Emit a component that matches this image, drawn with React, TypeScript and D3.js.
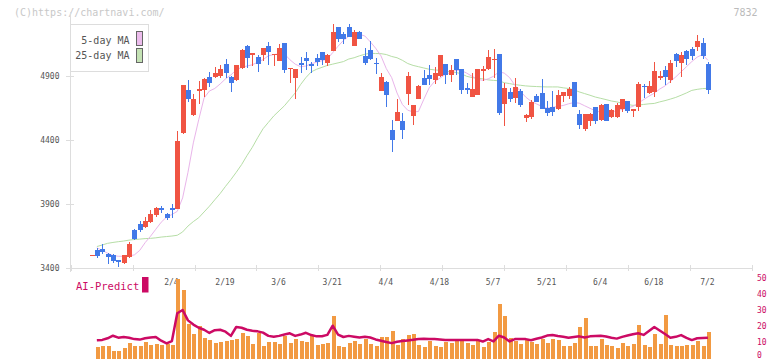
import * as d3 from 'd3';

const W = 772;
const H = 361;

// daily candles, 2025/1/14 .. 2025/7/2
const opens = [3500,3541,3548,3512,3502,3465,3442,3488,3697,3749,
  3723,3764,3817,3871,3821,3871,3862,4457,4791,4595,
  4786,4790,4897,4893,4901,4995,4897,4869,4963,5135,
  5066,5053,5063,5138,5066,5022,5157,4954,4889,5006,
  5044,4999,5044,5088,5007,5100,5282,5227,5282,5139,
  5246,5058,5105,5006,4785,4858,4480,4551,4551,4762,
  4590,4723,4889,4910,4870,4901,4995,4909,5034,4954,
  4805,4740,4754,4943,4954,5028,5075,4680,4777,4733,
  4785,4576,4584,4745,4768,4654,4662,4648,4748,4748,
  4855,4603,4488,4551,4660,4556,4683,4580,4580,4643,
  4707,4626,4660,4823,4771,4779,4886,4949,4870,5074,
  5001,5097,5113,5127,5160,4995];
const highs = [3503,3558,3593,3520,3515,3468,3501,3608,3705,3769,
  3801,3858,3879,3886,3834,3901,4473,4835,4869,4760,
  4862,4890,4936,4975,4987,5034,4900,4990,5116,5143,
  5079,5066,5125,5167,5074,5155,5160,4965,4954,5047,
  5088,5015,5077,5090,5072,5308,5287,5245,5308,5262,
  5254,5118,5178,5045,4922,4860,4558,4722,4617,4936,
  4678,4832,4948,4992,4975,5068,4997,4987,5036,4956,
  4845,4922,4956,4980,5105,5115,5077,4845,4807,4888,
  4798,4608,4718,4765,4878,4707,4784,4792,4781,4818,
  4857,4634,4607,4610,4662,4683,4685,4648,4690,4724,
  4709,4648,4855,4839,4863,5011,4941,4980,5027,5082,
  5090,5105,5129,5222,5199,5011];
const lows = [3499,3480,3515,3434,3441,3410,3434,3484,3620,3684,
  3711,3754,3797,3832,3775,3793,3862,4450,4699,4590,
  4682,4740,4819,4885,4885,4885,4779,4865,4960,4967,
  4983,4931,5020,4988,4981,5020,4924,4848,4723,4928,
  4948,4924,4983,4988,4983,5098,5170,5152,5204,5137,
  5192,4988,5030,4916,4783,4663,4311,4549,4412,4676,
  4519,4720,4830,4832,4840,4891,4840,4856,4909,4760,
  4760,4738,4752,4865,4952,4885,4597,4511,4701,4693,
  4663,4542,4563,4701,4644,4589,4589,4636,4701,4719,
  4660,4486,4472,4512,4527,4548,4549,4575,4578,4619,
  4614,4584,4629,4733,4760,4740,4870,4831,4849,4975,
  4897,4988,5027,5095,5035,4760];
const closes = [3502,3496,3529,3489,3457,3450,3501,3587,3626,3697,
  3769,3827,3871,3858,3795,3858,4392,4831,4720,4720,
  4799,4880,4850,4924,4956,4928,4850,4987,5104,5044,
  5079,4995,5119,5091,5074,5119,4950,4965,4954,4986,
  5020,4983,5013,5026,5070,5245,5191,5193,5209,5246,
  5194,5006,5032,4993,4897,4754,4402,4621,4480,4902,
  4676,4824,4832,4879,4928,5066,4909,4948,4948,4792,
  4792,4800,4954,4954,5047,5036,4616,4805,4723,4818,
  4676,4594,4699,4701,4644,4615,4623,4753,4779,4800,
  4662,4522,4605,4608,4551,4675,4551,4634,4675,4722,
  4631,4642,4839,4818,4824,4941,4902,4897,5004,5022,
  5066,5032,5058,5175,5058,4792];

const ma5 = [null,3560,3540,3518,3500,3494,3494,3496,3505,3540,
  3600,3650,3705,3760,3800,3820,3845,3950,4150,4380,
  4560,4730,4785,4805,4840,4880,4910,4950,4970,4980,
  4990,5010,5030,5060,5070,5075,5075,5030,4995,4975,
  4980,4998,5010,5022,5035,5085,5135,5180,5212,5233,
  5228,5215,5170,5120,5060,4960,4890,4770,4680,4635,
  4622,4625,4720,4810,4860,4885,4915,4930,4948,4945,
  4925,4900,4878,4868,4880,4900,4935,4925,4890,4830,
  4785,4738,4705,4685,4665,4650,4658,4665,4672,4685,
  4695,4690,4670,4650,4630,4620,4618,4622,4630,4642,
  4652,4665,4690,4718,4745,4768,4800,4825,4860,4895,
  4935,4975,5015,5050,5070,5025];
const ma25 = [null,3570,3582,3595,3602,3608,3613,3620,3625,3628,
  3632,3634,3638,3644,3648,3652,3658,3684,3730,3765,
  3795,3840,3885,3935,3984,4040,4093,4150,4210,4280,
  4345,4420,4490,4540,4590,4630,4670,4720,4770,4835,
  4890,4935,4955,4970,4985,4995,5005,5015,5035,5045,
  5060,5072,5080,5078,5077,5070,5055,5045,5025,5000,
  4985,4975,4965,4955,4950,4947,4942,4935,4930,4920,
  4900,4890,4885,4880,4872,4868,4865,4850,4843,4835,
  4830,4825,4822,4820,4818,4817,4817,4817,4810,4805,
  4795,4778,4765,4752,4738,4728,4718,4707,4700,4690,
  4680,4673,4675,4680,4685,4688,4700,4710,4722,4735,
  4752,4770,4790,4798,4804,4806];

const volumes = [null,7.1,7.9,7.9,4.6,4.6,6.5,9.6,7.7,7.7,
  10.2,8.4,9.0,8.4,9.0,8.4,49.2,42.6,21.4,15.2,
  20.1,12.7,11.5,9.6,10.2,10.8,11.5,12.1,15.8,13.9,
  9.0,15.8,7.9,10.2,10.2,9.0,13.9,9.6,12.1,10.8,
  10.2,13.9,8.4,9.0,9.6,26.3,7.7,7.1,9.6,10.8,
  9.0,12.1,9.0,7.7,13.3,13.3,17.0,8.4,12.1,14.6,
  15.2,8.4,7.1,10.8,7.7,7.1,10.2,9.6,10.8,11.5,
  9.6,8.4,11.0,6.9,10.4,16.6,33.7,26.3,12.5,10.6,
  9.0,11.2,10.2,9.0,12.1,9.6,12.1,11.5,7.7,7.7,
  9.6,19.7,25.1,7.7,7.7,12.1,8.4,7.7,6.5,9.6,
  7.7,9.0,20.7,8.4,7.1,15.2,9.0,26.9,8.4,7.7,
  7.7,8.4,8.4,10.8,7.7,16.4];
const aiPredict = [null,11.3,11.5,12.5,14.1,12.9,13.3,12.8,12.0,11.7,
  12.5,13.0,13.3,11.0,9.4,10.8,28.0,30.0,23.6,21.0,
  19.0,17.8,15.8,17.5,17.8,16.6,14.0,19.5,19.0,17.8,
  17.2,16.8,16.0,14.0,13.5,14.0,14.8,15.6,14.0,14.8,
  15.9,14.5,13.7,13.8,14.6,20.3,14.8,13.3,14.0,13.5,
  13.0,13.5,13.0,11.8,11.0,10.2,9.5,10.4,10.8,11.2,
  11.6,12.1,12.2,12.1,12.0,11.8,11.5,11.5,11.5,11.5,
  11.5,11.5,11.5,10.5,12.0,10.6,14.1,13.0,10.6,12.0,
  12.1,12.0,11.3,12.2,13.0,14.2,14.6,13.9,13.5,12.9,
  13.3,13.7,13.0,13.7,13.9,14.1,13.6,12.8,12.3,13.4,
  14.2,15.0,15.6,14.6,17.0,19.5,17.3,15.2,12.9,13.4,
  14.5,12.8,11.4,12.5,12.7,12.9];

// date labels every 10 trading days
const dateIdx = [15, 25, 35, 45, 55, 65, 75, 85, 95, 105, 115];
const dateLabels = ['2/4', '2/19', '3/6', '3/21', '4/4', '4/18', '5/7', '5/21', '6/4', '6/18', '7/2'];
const priceTicks = [3400, 3900, 4400, 4900];
const aiTicks = [0, 10, 20, 30, 40, 50];

const RED = '#f05443';
const BLUE = '#4279e8';
const ORANGE = '#f29a42';
const MAGENTA = '#cc0a64';
const GRID = '#dddddd';
const MONO = '"DejaVu Sans Mono", monospace';

const App = () => {
  const n = closes.length;
  const xScale = d3.scaleLinear().domain([0, n - 1]).range([91.5, 707.9]);
  const yScale = d3.scaleLinear().domain([3400, 4900]).range([268.3, 76.3]);
  const vScale = d3.scaleLinear().domain([0, 50]).range([358.5, 277.7]);
  const gridScale = d3.scaleLinear().domain([0, 11]).range([70.7, 751.7]);

  const cx = (i: number) => Math.round(xScale(i));

  const maLine = d3
    .line<number | null>()
    .defined((d) => d != null)
    .x((_, i) => xScale(i))
    .y((d) => yScale(d as number));

  const aiLine = d3
    .line<number | null>()
    .defined((d) => d != null)
    .x((_, i) => xScale(i))
    .y((d) => vScale(d as number));

  const candles = closes.map((c, i) => {
    const o = opens[i];
    const up = c >= o;
    const color = up ? RED : BLUE;
    const x = cx(i);
    const top = Math.round(yScale(Math.max(o, c)));
    const bot = Math.round(yScale(Math.min(o, c)));
    return (
      <g key={i}>
        <line
          x1={x + 0.5}
          x2={x + 0.5}
          y1={yScale(highs[i])}
          y2={yScale(lows[i])}
          stroke={color}
          strokeWidth={1}
        />
        <rect x={x - 2} y={top} width={5} height={Math.max(1, bot - top)} fill={color} />
      </g>
    );
  });

  const volBars = volumes.map((v, i) =>
    v == null ? null : (
      <rect
        key={i}
        x={cx(i) - 1.5}
        y={vScale(v)}
        width={4}
        height={vScale(0) - vScale(v)}
        fill={ORANGE}
      />
    )
  );

  return (
    <svg
      width={W}
      height={H}
      style={{ position: 'absolute', left: 0, top: 0, background: '#fff' }}
      fontFamily={MONO}
    >
      <text x={14} y={15.5} fontSize={10} fill="#c8c8c8">(C)https://chartnavi.com/</text>
      <text x={757.5} y={15.5} fontSize={10} fill="#bbbbbb" textAnchor="end">7832</text>

      {/* axes */}
      <g shapeRendering="crispEdges">
        <line x1={70.5} x2={70.5} y1={12} y2={272} stroke={GRID} />
        <line x1={70} x2={752} y1={268.5} y2={268.5} stroke={GRID} />
        {d3.range(12).map((k) => (
          <line
            key={k}
            x1={Math.round(gridScale(k)) + 0.5}
            x2={Math.round(gridScale(k)) + 0.5}
            y1={264.5}
            y2={271}
            stroke={GRID}
          />
        ))}
        {priceTicks.map((t) => (
          <line key={t} x1={66} x2={74} y1={Math.round(yScale(t)) + 0.5} y2={Math.round(yScale(t)) + 0.5} stroke={GRID} />
        ))}
      </g>
      {priceTicks.map((t) => (
        <text key={t} x={59.5} y={yScale(t)} dy="0.35em" fontSize={8} fill="#555" textAnchor="end">
          {t}
        </text>
      ))}
      {dateIdx.map((idx, k) => (
        <text key={k} x={xScale(idx) - 0.5} y={285} fontSize={8} fill="#555" textAnchor="middle">
          {dateLabels[k]}
        </text>
      ))}
      {aiTicks.map((t) => (
        <text key={t} x={757} y={Math.min(vScale(t), 355)} dy="0.35em" fontSize={8} fill={MAGENTA}>
          {t}
        </text>
      ))}

      {/* moving averages */}
      <path d={maLine(ma25) || ''} fill="none" stroke="#b6dea6" strokeWidth={1} />
      <path d={maLine(ma5) || ''} fill="none" stroke="#e9b5ea" strokeWidth={1} />

      {/* candles */}
      <g shapeRendering="crispEdges">{candles}</g>

      {/* volume + AI predict */}
      <g shapeRendering="crispEdges">{volBars}</g>
      <path d={aiLine(aiPredict) || ''} fill="none" stroke={MAGENTA} strokeWidth={2.5} strokeLinejoin="round" />
      <text x={76} y={290} fontSize={10.5} fill={MAGENTA}>AI-Predict</text>
      <rect x={142} y={277} width={6.5} height={15.5} fill={MAGENTA} />

      {/* legend */}
      <rect x={70.5} y={24.5} width={77.5} height={47} fill="#fff" stroke={GRID} shapeRendering="crispEdges" />
      <text x={129.5} y={43.5} fontSize={10} fill="#555" textAnchor="end">5-day MA</text>
      <text x={129.5} y={59} fontSize={10} fill="#555" textAnchor="end">25-day MA</text>
      <rect x={136.5} y={31.5} width={6} height={14} fill="#ecbcec" stroke="#666" shapeRendering="crispEdges" />
      <rect x={136.5} y={48.5} width={6} height={14} fill="#c4e2b4" stroke="#666" shapeRendering="crispEdges" />
    </svg>
  );
};

export default App;
